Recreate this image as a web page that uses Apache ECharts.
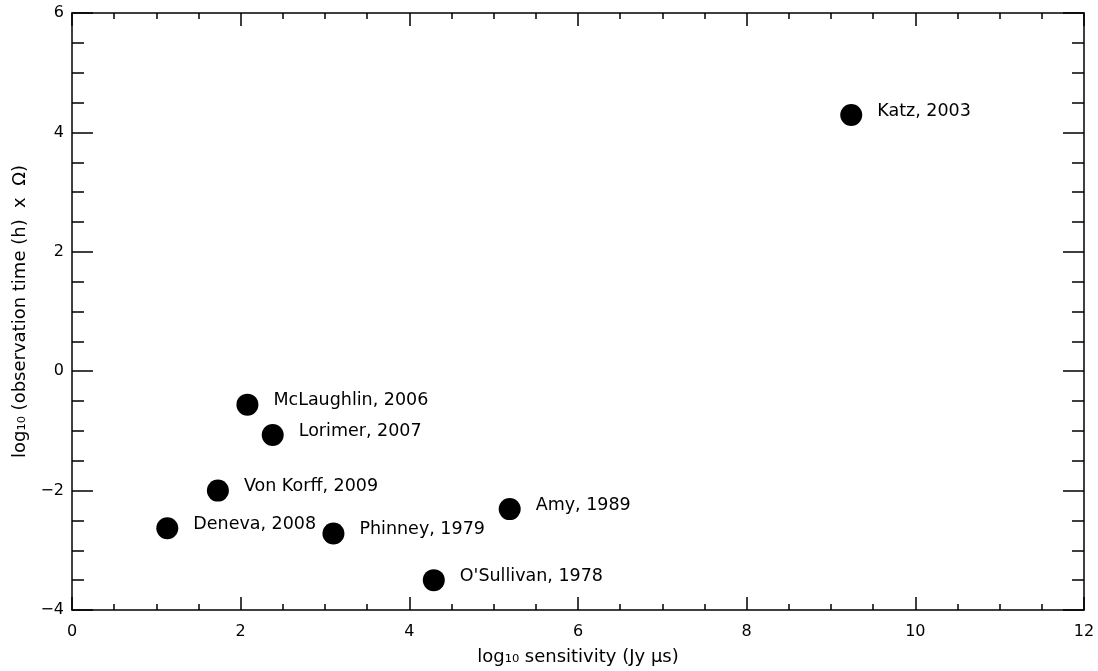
<!DOCTYPE html>
<html>
<head>
<meta charset="utf-8">
<script src="https://cdn.jsdelivr.net/npm/echarts@6/dist/echarts.min.js"></script>
<style>
  html, body { margin: 0; padding: 0; background: #fff; }
  #chart { width: 1098px; height: 671px; }
</style>
</head>
<body>
<div id="chart"></div>
<script>
  // survey names, log10 sensitivity (Jy us), log10 (obs time (h) x Omega)
  var surveys = ['Katz, 2003', 'McLaughlin, 2006', 'Lorimer, 2007', 'Von Korff, 2009',
                 'Deneva, 2008', 'Phinney, 1979', 'Amy, 1989', "O'Sullivan, 1978"];
  var sensitivity = [9.24, 2.08, 2.38, 1.73, 1.13, 3.10, 5.19, 4.29];
  var obsTime = [4.29, -0.56, -1.07, -2.00, -2.63, -2.72, -2.31, -3.50];

  var xTicks = { min: 0, max: 12, interval: 2 };
  var yTicks = { min: -4, max: 6, interval: 2 };

  var font = 'DejaVu Sans';
  var points = surveys.map(function(n, i) {
    return { name: n, value: [sensitivity[i], obsTime[i]] };
  });

  function axisBase(t, showLabel, tickLen, minorLen) {
    return {
      type: 'value',
      min: t.min, max: t.max, interval: t.interval,
      splitLine: { show: false },
      axisLine: { show: true, onZero: false, lineStyle: { color: '#000', width: 1.5 } },
      axisTick: { show: true, inside: true, length: tickLen, lineStyle: { color: '#000', width: 1.5 } },
      minorTick: { show: true, splitNumber: 4, length: minorLen, lineStyle: { color: '#000', width: 1.5 } },
      axisLabel: {
        show: showLabel, color: '#000', fontFamily: font, fontSize: 16,
        formatter: function(v) { return String(v).replace('-', '\u2212'); }
      }
    };
  }

  var xBottom = axisBase(xTicks, true, 13, 6);
  xBottom.position = 'bottom';
  xBottom.axisLabel.margin = 14;
  xBottom.name = 'log\u2081\u2080 sensitivity (Jy \u03bcs)';
  xBottom.nameLocation = 'middle';
  xBottom.nameGap = 38;
  xBottom.nameTextStyle = { color: '#000', fontFamily: font, fontSize: 18 };
  var xTop = axisBase(xTicks, false, 13, 6);
  xTop.position = 'top';

  var yLeft = axisBase(yTicks, true, 21, 12);
  yLeft.position = 'left';
  yLeft.axisLabel.margin = 8;
  yLeft.name = 'log\u2081\u2080 (observation time (h)  x  \u03a9)';
  yLeft.nameLocation = 'middle';
  yLeft.nameGap = 43;
  yLeft.nameTextStyle = { color: '#000', fontFamily: font, fontSize: 18 };
  var yRight = axisBase(yTicks, false, 21, 12);
  yRight.position = 'right';

  var chart = echarts.init(document.getElementById('chart'));
  chart.setOption({
    backgroundColor: '#fff',
    animation: false,
    grid: { left: 72, top: 13, right: 14, bottom: 61, containLabel: false, outerBoundsMode: 'none' },
    xAxis: [xBottom, xTop],
    yAxis: [yLeft, yRight],
    series: [{
      type: 'scatter',
      xAxisIndex: 0,
      yAxisIndex: 0,
      symbol: 'circle',
      symbolSize: 22,
      itemStyle: { color: '#000', opacity: 1 },
      label: {
        show: true,
        position: 'right',
        distance: 15,
        offset: [0, -4],
        formatter: '{b}',
        color: '#000',
        fontFamily: font,
        fontSize: 17.5
      },
      data: points
    }]
  });
</script>
</body>
</html>
